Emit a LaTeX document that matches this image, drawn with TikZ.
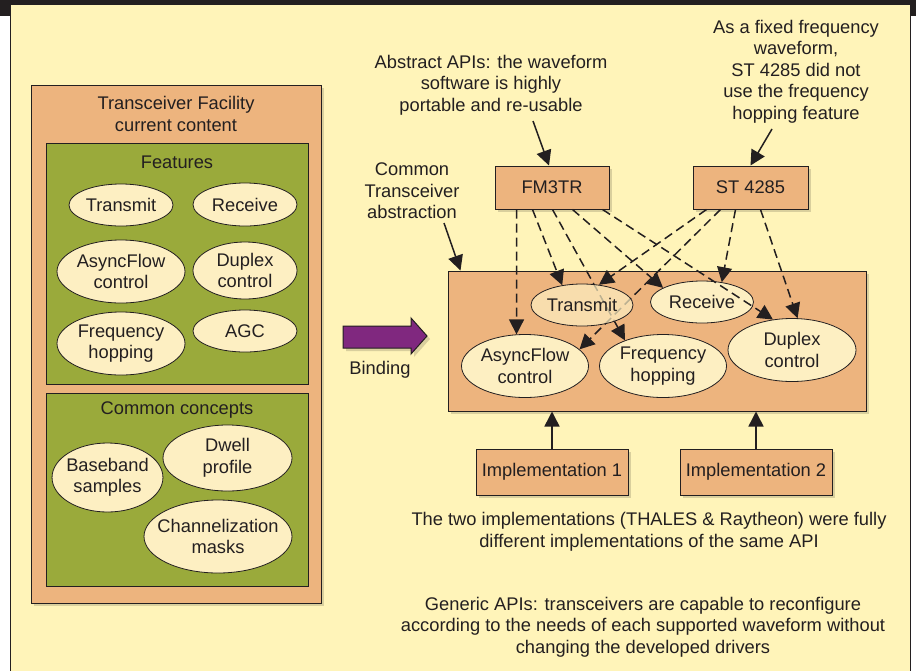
\documentclass[tikz,border=0pt]{standalone}
\usepackage{fontspec}
\setmainfont{Liberation Sans}
\usetikzlibrary{arrows.meta,shapes.geometric,shadows}
\definecolor{panel}{HTML}{FFF4B9}
\definecolor{orangebox}{HTML}{EDB47E}
\definecolor{greenbox}{HTML}{9AAA3B}
\definecolor{ellfill}{HTML}{FDEFC2}
\definecolor{purplearrow}{HTML}{80287F}
\definecolor{ink}{HTML}{231F20}
\pgfdeclarelayer{fg}
\pgfsetlayers{main,fg}
\tikzset{
  txt/.style={text=ink, align=center, font=\fontsize{18.3}{21.5}\selectfont, inner sep=0pt},
  obox/.style={draw=ink, line width=1pt, fill=orangebox, inner sep=0pt,
    drop shadow={shadow xshift=3pt, shadow yshift=-3pt, fill=black, opacity=0.15}},
  gbox/.style={draw=ink, line width=1pt, fill=greenbox, inner sep=0pt},
  ell/.style={ellipse, draw=ink, line width=0.8pt, fill=ellfill, inner sep=0pt, txt},
  dasharr/.style={draw=ink, line width=1.5pt, dash pattern=on 9pt off 5pt,
    -{Triangle[length=15pt,width=15pt]}},
  solarr/.style={draw=ink, line width=1.5pt, -{Triangle[length=15pt,width=15pt]}},
}
\begin{document}
\begin{tikzpicture}[x=1pt,y=-1pt]
\useasboundingbox (0,0) rectangle (916,670);
% background
\fill[ink] (0,0) rectangle (916,16);
\fill[white] (0,16) rectangle (916,670);
\filldraw[fill=panel, draw=ink, line width=1pt] (10,4) rectangle (910,675);

% left side
\node[obox, minimum width=290pt, minimum height=518pt] (outer) at (176,344) {};
\node[txt] (outert) at (176,114) {Transceiver Facility\\current content};
\node[gbox, minimum width=262pt, minimum height=241pt] (feat) at (177,263.5) {};
\node[txt] (featt) at (177,162) {Features};
\node[ell, minimum width=104pt, minimum height=42pt] (ltx) at (121,205) {Transmit};
\node[ell, minimum width=104pt, minimum height=43pt] (lrx) at (245,204.5) {Receive};
\node[ell, minimum width=128pt, minimum height=63pt] (laf) at (121,271.5) {AsyncFlow\\control};
\node[ell, minimum width=104pt, minimum height=57pt] (ldc) at (245,270.5) {Duplex\\control};
\node[ell, minimum width=128pt, minimum height=63pt] (lfh) at (121,343.5) {Frequency\\hopping};
\node[ell, minimum width=104pt, minimum height=42pt] (lagc) at (245,331) {AGC};

\node[gbox, minimum width=262pt, minimum height=193pt] (common) at (177,489.5) {};
\node[txt] (commont) at (177,410) {Common concepts};
\node[ell, minimum width=109pt, minimum height=69pt, inner xsep=-2pt] (bb) at (107.5,477.5) {Baseband\\samples};
\node[ell, minimum width=129pt, minimum height=66pt] (dw) at (227.5,458) {Dwell\\profile};
\node[ell, minimum width=148pt, minimum height=73pt, inner xsep=-10pt] (ch) at (218,536.5) {Channelization\\masks};

% binding arrow
\filldraw[fill=purplearrow, draw=ink, line width=1pt,
  drop shadow={shadow xshift=3pt, shadow yshift=-3pt, fill=black, opacity=0.15}]
  (343,326) -- (411,326) -- (411,318) -- (427,336) -- (411,354) -- (411,348) -- (343,348) -- cycle;
\node[txt] (bindt) at (380,370) {Binding};

% right side
\node[obox, minimum width=418pt, minimum height=140pt] (big) at (657,341) {};
\node[obox, minimum width=114pt, minimum height=43pt, txt] (fm) at (552,187.5) {FM3TR};
\node[obox, minimum width=115pt, minimum height=43pt, txt] (st) at (750.5,187.5) {ST 4285};
\node[obox, minimum width=152pt, minimum height=46pt, txt] (imp1) at (552,472) {Implementation 1};
\node[obox, minimum width=152pt, minimum height=46pt, txt] (imp2) at (756,472) {Implementation 2};

\begin{pgfonlayer}{fg}
\node[ell, minimum width=102pt, minimum height=42pt, fill=ellfill, fill opacity=0.7, text opacity=1] (rtx) at (582,305) {Transmit};
\end{pgfonlayer}
\node[ell, minimum width=103pt, minimum height=42pt] (rrx) at (702,302) {Receive};
\node[ell, minimum width=127pt, minimum height=63pt] (raf) at (525,366) {AsyncFlow\\control};
\node[ell, minimum width=127pt, minimum height=63pt] (rfh) at (663,366) {Frequency\\hopping};
\node[ell, minimum width=128pt, minimum height=63pt] (rdc) at (792,350) {Duplex\\control};

% dashed arrows
\draw[dasharr] ([xshift=22pt]fm.south west) -- (raf.105);
\draw[dasharr] ([xshift=38pt]fm.south west) -- (rtx.135);
\draw[dasharr] ([xshift=58pt]fm.south west) -- (rfh.146);
\draw[dasharr] ([xshift=78pt]fm.south west) -- (rrx.160);
\draw[dasharr] ([xshift=108pt]fm.south west) -- (rdc.122);
\draw[dasharr] ([xshift=14pt]st.south west) -- (rtx.50);
\draw[dasharr] ([xshift=28pt]st.south west) -- (raf.17);
\draw[dasharr] ([xshift=43pt]st.south west) -- (rrx.45);
\draw[dasharr] ([xshift=68pt]st.south west) -- (rdc.80);

% implementation arrows
\draw[solarr] (imp1.north) -- (imp1.north |- big.south);
\draw[solarr] (imp2.north) -- (imp2.north |- big.south);

% annotations
\node[txt] (abs) at (491,85) {Abstract APIs: the waveform\\software is highly\\portable and re-usable};
\coordinate (absend) at (533,121);
\draw[solarr] (absend) -- ([xshift=-3pt]fm.north);

\node[txt] (fix) at (796,71.5) {As a fixed frequency\\waveform,\\ST 4285 did not\\use the frequency\\hopping feature};
\coordinate (fixend) at (772,129);
\draw[solarr] (fixend) -- (st.north);

\node[txt] (cta) at (412,191) {Common\\Transceiver\\abstraction};
\coordinate (ctaend) at (444,223);
\draw[solarr] (ctaend) -- ([xshift=13pt]big.north west);

\node[txt] (twoimp) at (649,532) {The two implementations (THALES \& Raytheon) were fully\\different implementations of the same API};
\node[txt] (generic) at (643,627) {Generic APIs: transceivers are capable to reconfigure\\according to the needs of each supported waveform without\\changing the developed drivers};
\end{tikzpicture}
\end{document}
